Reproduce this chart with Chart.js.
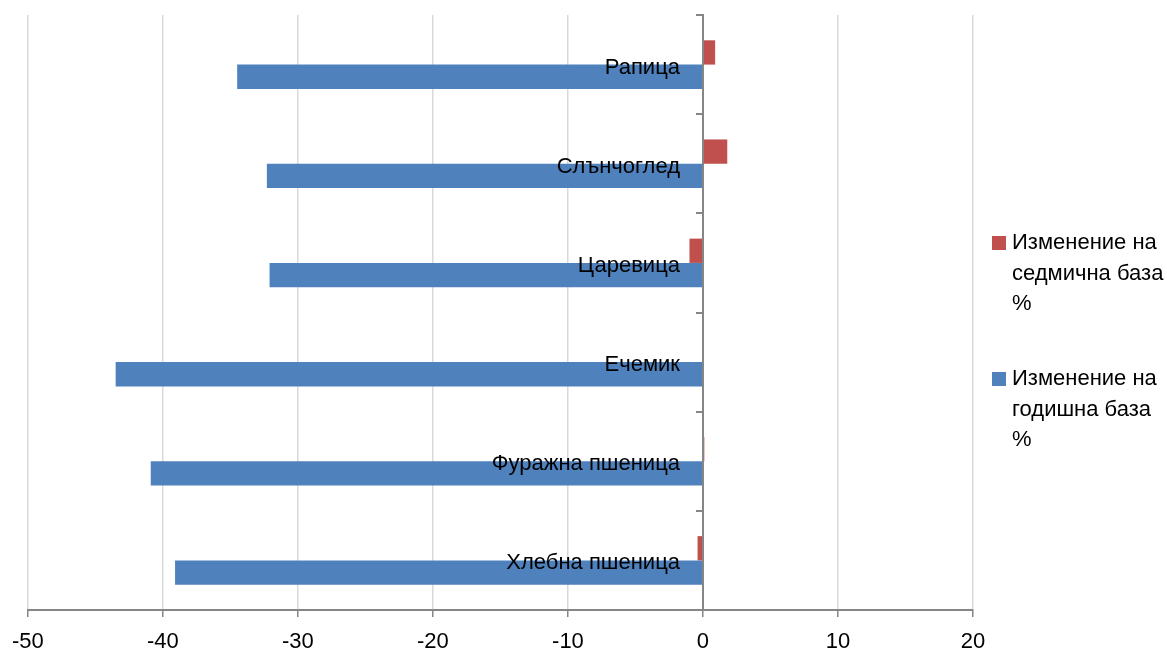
<!DOCTYPE html>
<html>
<head>
<meta charset="utf-8">
<script src="https://cdn.jsdelivr.net/npm/chart.js@4/dist/chart.umd.min.js"></script>
<style>
  body { margin: 0; background: #fff; }
  #wrap { width: 1167px; height: 653px; position: relative; }
</style>
</head>
<body>
<div id="wrap"><canvas id="prices"></canvas></div>
<script>
// Data
const categories = ["Рапица", "Слънчоглед", "Царевица", "Ечемик", "Фуражна пшеница", "Хлебна пшеница"];
const weekly = [0.9, 1.8, -1.0, 0, 0.1, -0.4];
const yearly = [-34.5, -32.3, -32.1, -43.5, -40.9, -39.1];
const weeklyLegend = ["Изменение на", "седмична база", "%"];
const yearlyLegend = ["Изменение на", "годишна база", "%"];

const font = "'Liberation Sans', Arial, sans-serif";

// category names sit left of the zero line, on top of the bars
const zeroLabels = {
  id: "zeroLabels",
  afterDatasetsDraw(chart) {
    const ctx = chart.ctx;
    const xs = chart.scales.x, ys = chart.scales.y;
    const x0 = xs.getPixelForValue(0);
    ctx.save();
    ctx.font = "22px " + font;
    ctx.fillStyle = "#000";
    ctx.textAlign = "right";
    ctx.textBaseline = "middle";
    chart.data.labels.forEach((lab, i) => {
      ctx.fillText(lab, x0 - 23, ys.getPixelForValue(i) + 3);
    });
    ctx.restore();
  },
};

// legend drawn by hand, Excel style wrapping
const sideLegend = {
  id: "sideLegend",
  afterDraw(chart) {
    const ctx = chart.ctx;
    ctx.save();
    ctx.font = "22px " + font;
    ctx.textBaseline = "middle";
    ctx.textAlign = "left";
    let items = [
      { lines: weeklyLegend, color: chart.data.datasets[0].backgroundColor, y: 243 },
      { lines: yearlyLegend, color: chart.data.datasets[1].backgroundColor, y: 379 },
    ];
    for (let it of items) {
      ctx.fillStyle = it.color;
      ctx.fillRect(992, it.y - 7, 14, 14);
      ctx.fillStyle = "#000";
      it.lines.forEach((t, i) => ctx.fillText(t, 1012, it.y + i * 30.5));
    }
    ctx.restore();
  },
};

var pricesChart = new Chart(document.getElementById("prices"), {
  type: "bar",
  data: {
    labels: categories,
    datasets: [
      {
        label: weeklyLegend.join(" "),
        data: weekly,
        backgroundColor: "#C0504D",
        categoryPercentage: 0.49,
        barPercentage: 1,
      },
      {
        label: yearlyLegend.join(" "),
        data: yearly,
        backgroundColor: "#4F81BD",
        categoryPercentage: 0.49,
        barPercentage: 1,
      },
    ],
  },
  options: {
    indexAxis: "y",
    responsive: true,
    maintainAspectRatio: false,
    animation: false,
    layout: { padding: { left: 24, right: 194, top: 15, bottom: 0 } },
    plugins: {
      legend: { display: false },
      tooltip: { enabled: false },
    },
    scales: {
      x: {
        min: -50,
        max: 20,
        ticks: { stepSize: 10, color: "#000", font: { family: font, size: 22 }, padding: 12 },
        grid: { color: "#d9d9d9", lineWidth: 1.5, tickColor: "#868686", tickLength: 7 },
        border: { color: "#868686", width: 2 },
        afterFit: (scale) => { scale.height = 43; },
      },
      y: {
        position: { x: 0 },
        ticks: { display: false },
        grid: { drawOnChartArea: false, offset: true, tickLength: 6, tickColor: "#868686", lineWidth: 2 },
        border: { color: "#868686", width: 2, z: 1 },
      },
    },
  },
  plugins: [zeroLabels, sideLegend],
});
</script>
</body>
</html>
